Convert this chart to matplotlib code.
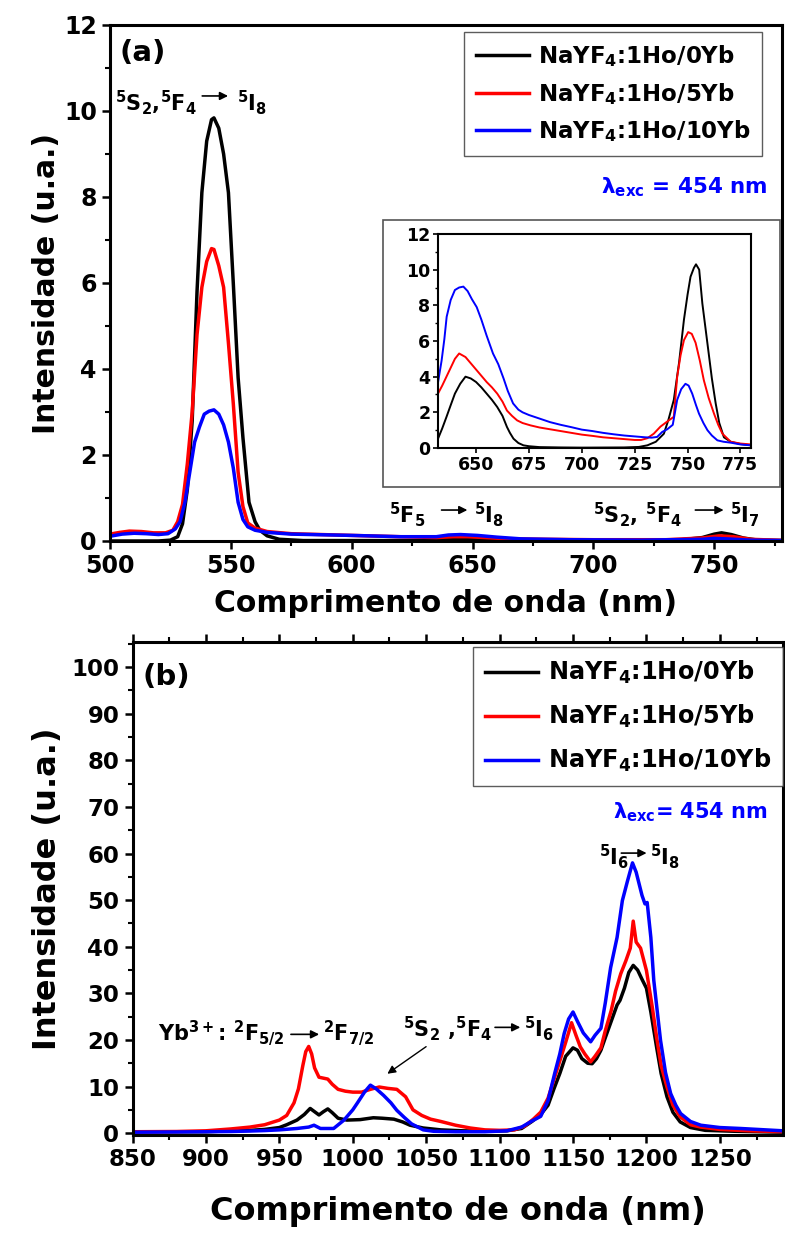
"""
NaYF4:Ho/Yb emission spectra under 454 nm excitation
(a) visible/red region with inset   (b) NIR region
"""
import matplotlib
matplotlib.use("Agg")
import matplotlib.pyplot as plt
from matplotlib.patches import Rectangle
from matplotlib.ticker import MultipleLocator

plt.rcParams["font.family"] = ["DejaVu Sans"]
plt.rcParams["font.weight"] = "bold"
plt.rcParams["mathtext.fontset"] = "custom"
plt.rcParams["mathtext.rm"] = "DejaVu Sans:bold"
plt.rcParams["mathtext.it"] = "DejaVu Sans:bold"
plt.rcParams["mathtext.bf"] = "DejaVu Sans:bold"

# ─────────────────────────────────────────────────────────────────────────────
# data
# ─────────────────────────────────────────────────────────────────────────────
LABELS = [r"NaYF$_4$:1Ho/0Yb", r"NaYF$_4$:1Ho/5Yb", r"NaYF$_4$:1Ho/10Yb"]
COLORS = ["#000000", "#ff0000", "#0000ff"]

# (a) main spectrum
A_BLACK_X = [500, 520, 525, 528, 530, 532, 534, 536, 538, 540, 542, 543, 545, 547, 549, 551,
             553, 555, 557.5, 560, 562, 565, 570, 580, 630, 640, 645, 655, 665, 700, 735, 745,
             750, 753, 757, 762, 768, 780]
A_BLACK_Y = [0, 0, 0.02, 0.1, 0.4, 1.2, 2.8, 5.8, 8.1, 9.3, 9.8, 9.84, 9.6, 9.0, 8.1, 6.0,
             3.8, 2.4, 0.9, 0.45, 0.25, 0.12, 0.04, 0.01, 0.01, 0.04, 0.05, 0.04, 0.02, 0.01,
             0.02, 0.08, 0.16, 0.19, 0.15, 0.07, 0.02, 0.01]
A_RED_X = [500, 504, 508, 513, 518, 523, 526, 528, 530, 532, 534, 536, 538, 540, 542, 543,
           545, 547, 549, 551, 553, 555, 557, 560, 565, 575, 600, 620, 635, 642, 648, 655,
           665, 680, 700, 730, 745, 752, 758, 765, 780]
A_RED_Y = [0.16, 0.2, 0.23, 0.22, 0.19, 0.19, 0.25, 0.45, 0.85, 1.8, 3.0, 4.8, 5.9, 6.5, 6.8,
           6.78, 6.4, 5.9, 4.6, 3.2, 1.6, 0.8, 0.42, 0.3, 0.22, 0.17, 0.13, 0.1, 0.08, 0.1,
           0.1, 0.08, 0.05, 0.04, 0.03, 0.03, 0.07, 0.12, 0.1, 0.04, 0.01]
A_BLUE_X = [500, 505, 510, 515, 520, 524, 527, 529, 531, 533, 535, 537, 539, 541, 543, 545,
            547, 549, 551, 553, 555, 557, 560, 565, 575, 600, 620, 635, 640, 645, 652, 660,
            670, 690, 720, 745, 750, 755, 765, 780]
A_BLUE_Y = [0.11, 0.16, 0.18, 0.17, 0.15, 0.17, 0.28, 0.45, 0.9, 1.6, 2.3, 2.65, 2.95, 3.02,
            3.05, 2.95, 2.7, 2.3, 1.7, 0.9, 0.5, 0.33, 0.25, 0.2, 0.16, 0.13, 0.1, 0.1, 0.14,
            0.15, 0.13, 0.09, 0.05, 0.03, 0.02, 0.04, 0.06, 0.05, 0.02, 0.01]

# (a) inset
I_BLACK_X = [632, 634, 636, 638, 640, 642.5, 645, 647.5, 650, 652.5, 655, 657.5, 660, 662.5,
             664.6, 666, 667.7, 670, 672.4, 675, 680, 690, 700, 720, 727, 731, 735, 738.8,
             741, 743.5, 746, 748.3, 750, 751.4, 753, 754, 755.5, 757, 758.5, 760, 761.5,
             763.3, 765, 767.2, 770.4, 775, 780]
I_BLACK_Y = [0.52, 1.1, 1.74, 2.4, 3.05, 3.6, 4.0, 3.9, 3.7, 3.4, 3.05, 2.7, 2.3, 1.8,
             1.18, 0.85, 0.52, 0.28, 0.15, 0.1, 0.05, 0.03, 0.02, 0.03, 0.06, 0.15, 0.35, 0.8,
             1.6, 2.7, 4.8, 7.2, 8.6, 9.6, 10.1, 10.3, 10.0, 8.1, 6.7, 5.3, 3.9,
             2.5, 1.4, 0.6, 0.35, 0.22, 0.15]
I_RED_X = [632, 634, 636, 638, 640, 642, 645, 647.5, 650, 652.5, 655, 657.5, 660, 662.5,
           664.6, 667, 669.4, 672, 675.7, 680, 685, 690, 695, 700, 705, 710, 715, 720, 725,
           728, 731, 734, 737.2, 740, 743.5, 745.1, 746.7, 748.3, 750.3, 752, 753.8, 755.8,
           757.7, 760, 762.5, 764.5, 766.5, 770.4, 775, 780]
I_RED_Y = [3.05, 3.5, 4.0, 4.5, 5.0, 5.3, 5.1, 4.75, 4.4, 4.05, 3.7, 3.4, 3.05, 2.6,
           2.1, 1.8, 1.55, 1.4, 1.27, 1.15, 1.05, 0.95, 0.85, 0.75, 0.68, 0.6, 0.55, 0.5, 0.45,
           0.45, 0.55, 0.8, 1.2, 1.45, 1.75, 4.0, 5.2, 6.05, 6.5, 6.4, 5.9, 4.9,
           3.8, 2.8, 1.93, 1.3, 0.8, 0.35, 0.25, 0.2]
I_BLUE_X = [632, 633.7, 635, 636.1, 638, 640, 642, 644, 646, 648, 650.3, 652.5, 655, 658,
            660.5, 663, 665, 667.5, 670, 672, 675, 680, 685, 690, 695, 700, 705, 710, 715,
            720, 725, 730, 733, 735.6, 738, 740.4, 743, 745.1, 747, 749, 750.5, 752.2, 754,
            755.4, 757.5, 759.4, 761.5, 764.1, 767, 770.4, 775, 780]
I_BLUE_Y = [3.67, 4.9, 6.1, 7.36, 8.3, 8.86, 9.0, 9.05, 8.8, 8.35, 7.9, 7.2, 6.3, 5.3,
            4.7, 3.9, 3.2, 2.5, 2.15, 2.0, 1.85, 1.65, 1.45, 1.3, 1.17, 1.03, 0.95, 0.85, 0.77,
            0.7, 0.65, 0.6, 0.58, 0.62, 0.9, 1.05, 1.3, 2.7, 3.3, 3.6, 3.5, 3.05, 2.4,
            1.93, 1.4, 1.0, 0.7, 0.43, 0.35, 0.3, 0.2, 0.15]

# (b) NIR spectrum
B_BLACK_X = [850, 880, 900, 917, 930, 940, 950, 955, 962, 967, 971, 974, 977, 980, 983, 986,
             990, 996, 1005, 1014, 1020, 1028, 1034, 1039, 1048, 1060, 1075, 1090, 1105, 1115,
             1122, 1128, 1133, 1137, 1141, 1145, 1150, 1153, 1156, 1160, 1163, 1166, 1169,
             1172, 1176, 1180, 1182, 1185, 1188, 1191, 1194, 1197, 1200, 1203, 1207, 1210,
             1214, 1218, 1223, 1230, 1240, 1260, 1293]
B_BLACK_Y = [0.3, 0.3, 0.3, 0.5, 0.6, 0.8, 1.2, 1.8, 2.8, 4.0, 5.3, 4.6, 3.9, 4.6, 5.2, 4.4,
             3.2, 2.8, 2.9, 3.3, 3.2, 3.0, 2.4, 1.7, 1.1, 0.7, 0.5, 0.4, 0.5, 1.0,
             2.5, 4.0, 6.0, 9.5, 12.8, 16.5, 18.3, 17.8, 16.0, 15.0, 14.9, 16.0, 17.8,
             20.5, 24.0, 27.5, 28.5, 31.1, 34.5, 36.0, 35.0, 33.0, 31.1, 26.0, 18.3, 12.8,
             7.8, 4.5, 2.4, 1.2, 0.6, 0.4, 0.2]
B_RED_X = [850, 880, 900, 917, 930, 940, 950, 955, 960, 963, 966, 968, 970, 972, 974, 977,
           980, 983, 986, 990, 995, 1000, 1006, 1012, 1018, 1024, 1030, 1036, 1041, 1047,
           1053, 1060, 1070, 1080, 1090, 1100, 1110, 1117, 1123, 1128, 1133, 1137, 1141,
           1145, 1149, 1152, 1155, 1158, 1162, 1165, 1169, 1172, 1176, 1179, 1182.5, 1186,
           1189, 1191, 1193, 1196, 1200, 1204, 1207, 1210, 1214, 1218, 1223, 1230, 1237,
           1250, 1270, 1293]
B_RED_Y = [0.3, 0.35, 0.5, 0.9, 1.3, 1.8, 2.8, 3.8, 6.5, 9.5, 14.5, 17.5, 18.6, 17.0, 14.0,
           12.0, 11.8, 11.6, 10.5, 9.4, 9.0, 8.8, 8.8, 9.4, 9.9, 9.6, 9.4, 7.8, 5.0, 3.8,
           3.0, 2.5, 1.7, 1.1, 0.7, 0.6, 0.7, 1.5, 3.0, 4.5, 7.5, 11.5, 15.5,
           19.5, 23.7, 21.0, 18.5, 17.0, 15.3, 16.5, 18.3, 22.0, 26.3, 30.5, 34.2, 37.0,
           39.7, 45.5, 41.0, 39.7, 34.9, 27.0, 20.4, 14.5, 9.9, 6.0, 3.5, 1.8, 1.3,
           0.8, 0.5, 0.3]
B_BLUE_X = [850, 880, 900, 917, 930, 940, 950, 962, 970, 973.6, 978, 987, 994, 1000, 1003,
            1008, 1012, 1016, 1021, 1026, 1030, 1035, 1040, 1048, 1055, 1070, 1090, 1105,
            1115, 1122, 1128, 1133, 1137.5, 1141, 1144, 1147, 1150, 1153, 1157, 1162, 1165,
            1169, 1172, 1175.6, 1180, 1183.6, 1187, 1190.5, 1193, 1197, 1199, 1200.5, 1203,
            1205, 1209.6, 1213, 1216.5, 1220, 1223.3, 1230, 1237, 1250, 1264, 1293]
B_BLUE_Y = [0.2, 0.25, 0.3, 0.35, 0.45, 0.55, 0.7, 1.0, 1.3, 1.7, 1.0, 1.0, 2.8, 5.0, 6.4,
            8.8, 10.3, 9.5, 8.1, 6.5, 4.9, 3.4, 2.0, 0.7, 0.4, 0.3, 0.3, 0.5,
            1.3, 2.6, 3.6, 7.0, 12.8, 17.0, 21.4, 24.5, 26.0, 24.0, 21.5, 19.6, 21.0,
            22.5, 28.0, 35.5, 42.0, 49.9, 54.0, 58.0, 56.0, 51.0, 49.2, 49.5, 42.0,
            32.8, 19.9, 13.0, 8.5, 6.0, 4.2, 2.5, 1.7, 1.2, 1.0, 0.5]

# ─────────────────────────────────────────────────────────────────────────────
# figure
# ─────────────────────────────────────────────────────────────────────────────
W, H = 785, 1237
fig = plt.figure(figsize=(W / 100, H / 100), dpi=100)


def px_rect(l, t, r, b):
    """pixel box -> figure fraction rect"""
    return [l / W, 1 - b / H, (r - l) / W, (b - t) / H]


def style_axis(ax, lw=2.2):
    for s in ax.spines.values():
        s.set_linewidth(lw)
    ax.tick_params(which="major", direction="out", length=6, width=1.8)
    ax.tick_params(which="minor", direction="out", length=3.5, width=1.5)


def arrow(ax, x0, x1, y, lw=1.2):
    ax.annotate("", xy=(x1, y), xytext=(x0, y),
                arrowprops=dict(arrowstyle="-|>", color="black", lw=lw, mutation_scale=12))


# ── Panel (a) ───────────────────────────────────────────────────────────────
ax_a = fig.add_axes(px_rect(110, 25, 782, 541))
for xs, ys, c, lab in zip([A_BLACK_X, A_RED_X, A_BLUE_X], [A_BLACK_Y, A_RED_Y, A_BLUE_Y],
                          COLORS, LABELS):
    ax_a.plot(xs, ys, color=c, lw=2.5, label=lab)
ax_a.set_xlim(500, 778)
ax_a.set_ylim(0, 12)
ax_a.xaxis.set_major_locator(MultipleLocator(50))
ax_a.xaxis.set_minor_locator(MultipleLocator(25))
ax_a.yaxis.set_major_locator(MultipleLocator(2))
ax_a.yaxis.set_minor_locator(MultipleLocator(1))
style_axis(ax_a)
ax_a.tick_params(labelsize=17)
ax_a.set_xlabel("Comprimento de onda (nm)", fontsize=21.5, fontweight="bold", labelpad=8)
ax_a.set_ylabel("Intensidade (u.a.)", fontsize=21.5, fontweight="bold", labelpad=2)

leg = ax_a.legend(loc="upper right", bbox_to_anchor=(762 / W, 1 - 32 / H),
                  bbox_transform=fig.transFigure, borderaxespad=0, fontsize=16.5,
                  handlelength=2.3, handletextpad=0.4, labelspacing=0.5,
                  fancybox=False, edgecolor="#333333", borderpad=0.5)
leg.get_frame().set_linewidth(1.0)

ax_a.text(504, 11.35, "(a)", fontsize=21, fontweight="bold", va="center", ha="left")
ax_a.text(502, 10.2, r"$^5$S$_2$,$^5$F$_4$", fontsize=15, va="center", ha="left")
arrow(ax_a, 537, 550, 10.35)
ax_a.text(552.5, 10.2, r"$^5$I$_8$", fontsize=15, va="center", ha="left")

ax_a.text(615.5, 0.62, r"$^5$F$_5$", fontsize=15, va="center", ha="left")
arrow(ax_a, 636, 649, 0.72)
ax_a.text(650.5, 0.62, r"$^5$I$_8$", fontsize=15, va="center", ha="left")
ax_a.text(700, 0.62, r"$^5$S$_2$, $^5$F$_4$", fontsize=15, va="center", ha="left")
arrow(ax_a, 741, 755, 0.72)
ax_a.text(756.5, 0.62, r"$^5$I$_7$", fontsize=15, va="center", ha="left")

ax_a.text(703, 8.23, r"λ$_{exc}$ = 454 nm", fontsize=15.5, color="#0000ff",
          va="center", ha="left")

# inset frame + inset axes
fig.patches.append(Rectangle((383 / W, 1 - 487 / H), (780 - 383) / W, (487 - 220) / H,
                             transform=fig.transFigure, fill=False,
                             edgecolor="#555555", lw=1.2))
ax_i = fig.add_axes(px_rect(438, 234, 751, 448))
for xs, ys, c in zip([I_BLACK_X, I_RED_X, I_BLUE_X], [I_BLACK_Y, I_RED_Y, I_BLUE_Y], COLORS):
    ax_i.plot(xs, ys, color=c, lw=1.4)
ax_i.set_xlim(632, 780)
ax_i.set_ylim(0, 12)
ax_i.xaxis.set_major_locator(MultipleLocator(25))
ax_i.yaxis.set_major_locator(MultipleLocator(2))
ax_i.yaxis.set_minor_locator(MultipleLocator(1))
for s in ax_i.spines.values():
    s.set_linewidth(1.5)
ax_i.tick_params(which="major", direction="out", length=3.5, width=1.2, labelsize=12.5, pad=2)
ax_i.tick_params(which="minor", direction="out", length=2, width=1.0)

# ── Panel (b) ───────────────────────────────────────────────────────────────
ax_b = fig.add_axes(px_rect(132.5, 642, 783, 1135))
for xs, ys, c, lab in zip([B_BLACK_X, B_RED_X, B_BLUE_X], [B_BLACK_Y, B_RED_Y, B_BLUE_Y],
                          COLORS, LABELS):
    ax_b.plot(xs, ys, color=c, lw=2.5, label=lab)
ax_b.set_xlim(850, 1293)
ax_b.set_ylim(-0.4, 105.4)
ax_b.xaxis.set_major_locator(MultipleLocator(50))
ax_b.xaxis.set_minor_locator(MultipleLocator(25))
ax_b.yaxis.set_major_locator(MultipleLocator(10))
ax_b.yaxis.set_minor_locator(MultipleLocator(5))
style_axis(ax_b)
ax_b.tick_params(which="major", axis="x", top=True, length=6)
ax_b.tick_params(which="minor", axis="x", top=True, length=3.5)
ax_b.tick_params(labelsize=16.5)
ax_b.set_xlabel("Comprimento de onda (nm)", fontsize=23, fontweight="bold", labelpad=18)
ax_b.set_ylabel("Intensidade (u.a.)", fontsize=23, fontweight="bold", labelpad=6)

leg = ax_b.legend(loc="upper right", bbox_to_anchor=(783 / W, 1 - 647 / H),
                  bbox_transform=fig.transFigure, borderaxespad=0, fontsize=17.3,
                  handlelength=2.2, handletextpad=0.4, labelspacing=0.7,
                  fancybox=False, edgecolor="#333333", borderpad=0.5)
leg.get_frame().set_linewidth(1.0)

ax_b.text(856.5, 97.9, "(b)", fontsize=21, fontweight="bold", va="center", ha="left")
ax_b.text(867.5, 21.5, r"Yb$^{3+}$: $^2$F$_{5/2}$", fontsize=15, va="center", ha="left")
arrow(ax_b, 956, 979, 21.2)
ax_b.text(980, 21.5, r"$^2$F$_{7/2}$", fontsize=15, va="center", ha="left")
ax_b.text(1034.5, 22.5, r"$^5$S$_2$ ,$^5$F$_4$", fontsize=15, va="center", ha="left")
arrow(ax_b, 1095, 1116, 22.7)
ax_b.text(1116.5, 22.5, r"$^5$I$_6$", fontsize=15, va="center", ha="left")
ax_b.annotate("", xy=(1022, 12.4), xytext=(1051.5, 18.9),
              arrowprops=dict(arrowstyle="-|>", color="black", lw=1.0, mutation_scale=12))
ax_b.text(1168, 59.3, r"$^5$I$_6$", fontsize=15, va="center", ha="left")
arrow(ax_b, 1181, 1202, 60.1)
ax_b.text(1202.5, 59.3, r"$^5$I$_8$", fontsize=15, va="center", ha="left")
ax_b.text(1177.5, 68.9, r"λ$_{exc}$= 454 nm", fontsize=15, color="#0000ff",
          va="center", ha="left")

fig.savefig("out.png", dpi=100)
